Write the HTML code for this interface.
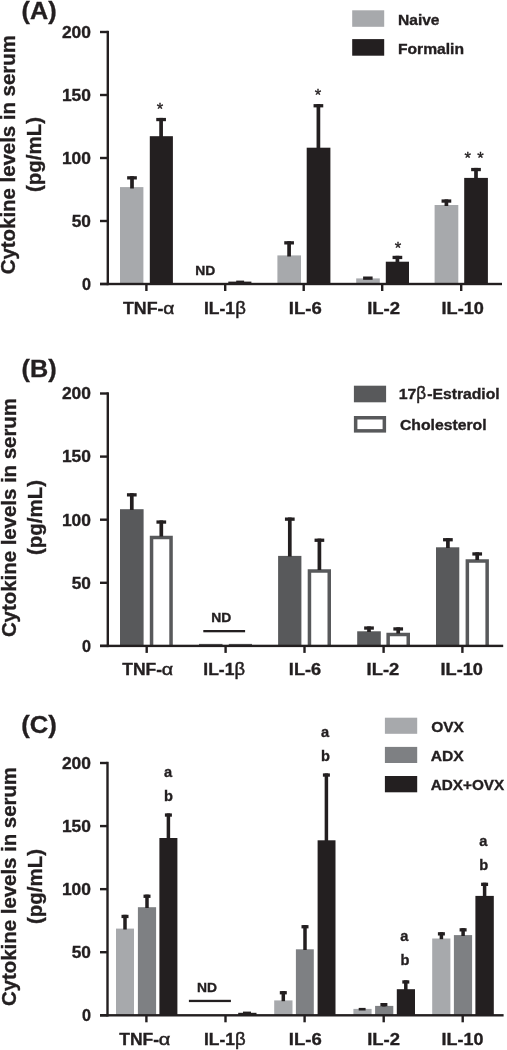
<!DOCTYPE html>
<html><head><meta charset="utf-8"><title>Cytokine levels in serum</title>
<style>
html,body{margin:0;padding:0;background:#fff;}
body{width:507px;height:1050px;overflow:hidden;}
svg{display:block;will-change:transform;font-family:"Liberation Sans",sans-serif;}
</style></head><body>
<svg width="507" height="1050" viewBox="0 0 507 1050">
<rect x="0" y="0" width="507" height="1050" fill="#ffffff"/>
<rect x="120.00" y="187.10" width="23.40" height="96.90" fill="#a7a9ac" />
<rect x="127.15" y="176.20" width="9.70" height="3.30" fill="#231f20" />
<rect x="130.15" y="176.20" width="3.70" height="12.30" fill="#231f20" />
<rect x="149.80" y="136.20" width="23.10" height="147.80" fill="#231f20" />
<rect x="156.25" y="117.90" width="9.70" height="3.30" fill="#231f20" />
<rect x="159.25" y="117.90" width="3.70" height="19.10" fill="#231f20" />
<rect x="228.30" y="281.60" width="23.10" height="2.40" fill="#231f20" />
<rect x="236.20" y="280.60" width="7.90" height="1.40" fill="#231f20" />
<rect x="277.40" y="255.40" width="23.60" height="28.60" fill="#a7a9ac" />
<rect x="284.25" y="241.20" width="9.70" height="3.30" fill="#231f20" />
<rect x="287.25" y="241.20" width="3.70" height="15.30" fill="#231f20" />
<rect x="306.70" y="147.70" width="23.70" height="136.30" fill="#231f20" />
<rect x="313.55" y="104.10" width="9.70" height="3.30" fill="#231f20" />
<rect x="316.55" y="104.10" width="3.70" height="44.40" fill="#231f20" />
<rect x="356.20" y="278.40" width="23.60" height="5.60" fill="#a7a9ac" />
<rect x="363.10" y="276.50" width="9.50" height="3.30" fill="#231f20" />
<rect x="385.80" y="261.70" width="23.20" height="22.30" fill="#231f20" />
<rect x="392.55" y="255.80" width="9.70" height="3.30" fill="#231f20" />
<rect x="395.55" y="255.80" width="3.70" height="6.70" fill="#231f20" />
<rect x="434.60" y="205.00" width="23.70" height="79.00" fill="#a7a9ac" />
<rect x="441.55" y="199.40" width="9.70" height="3.30" fill="#231f20" />
<rect x="444.55" y="199.40" width="3.70" height="6.60" fill="#231f20" />
<rect x="464.20" y="177.90" width="23.70" height="106.10" fill="#231f20" />
<rect x="471.15" y="167.90" width="9.70" height="3.30" fill="#231f20" />
<rect x="474.15" y="167.90" width="3.70" height="10.60" fill="#231f20" />
<rect x="106.60" y="30.80" width="2.40" height="254.40" fill="#231f20" />
<rect x="100.00" y="282.80" width="402.00" height="2.40" fill="#231f20" />
<rect x="100.00" y="282.80" width="7.80" height="2.40" fill="#231f20" />
<text x="81.90" y="289.80" font-size="16.5" font-weight="bold" text-anchor="start" fill="#231f20" stroke="#231f20" stroke-width="0.35" textLength="9.00" lengthAdjust="spacingAndGlyphs">0</text>
<rect x="100.00" y="219.80" width="7.80" height="2.40" fill="#231f20" />
<text x="71.70" y="226.80" font-size="16.5" font-weight="bold" text-anchor="start" fill="#231f20" stroke="#231f20" stroke-width="0.35" textLength="19.20" lengthAdjust="spacingAndGlyphs">50</text>
<rect x="100.00" y="156.80" width="7.80" height="2.40" fill="#231f20" />
<text x="61.90" y="163.80" font-size="16.5" font-weight="bold" text-anchor="start" fill="#231f20" stroke="#231f20" stroke-width="0.35" textLength="29.00" lengthAdjust="spacingAndGlyphs">100</text>
<rect x="100.00" y="93.80" width="7.80" height="2.40" fill="#231f20" />
<text x="61.90" y="100.80" font-size="16.5" font-weight="bold" text-anchor="start" fill="#231f20" stroke="#231f20" stroke-width="0.35" textLength="29.00" lengthAdjust="spacingAndGlyphs">150</text>
<rect x="100.00" y="30.80" width="7.80" height="2.40" fill="#231f20" />
<text x="61.90" y="37.80" font-size="16.5" font-weight="bold" text-anchor="start" fill="#231f20" stroke="#231f20" stroke-width="0.35" textLength="29.00" lengthAdjust="spacingAndGlyphs">200</text>
<rect x="145.20" y="284.00" width="2.40" height="7.00" fill="#231f20" />
<rect x="224.00" y="284.00" width="2.40" height="7.00" fill="#231f20" />
<rect x="302.50" y="284.00" width="2.40" height="7.00" fill="#231f20" />
<rect x="381.00" y="284.00" width="2.40" height="7.00" fill="#231f20" />
<rect x="460.00" y="284.00" width="2.40" height="7.00" fill="#231f20" />
<text x="15.20" y="274.20" font-size="19.7" font-weight="bold" text-anchor="start" fill="#231f20" stroke="#231f20" stroke-width="0.35" textLength="239.00" lengthAdjust="spacingAndGlyphs" transform="rotate(-90 15.20 274.20)">Cytokine levels in serum</text>
<text x="41.00" y="192.00" font-size="19.7" font-weight="bold" text-anchor="start" fill="#231f20" stroke="#231f20" stroke-width="0.35" textLength="75.00" lengthAdjust="spacingAndGlyphs" transform="rotate(-90 41.00 192.00)">(pg/mL)</text>
<text x="21.60" y="19.00" font-size="24" font-weight="bold" text-anchor="start" fill="#231f20" stroke="#231f20" stroke-width="0.35" textLength="35.00" lengthAdjust="spacingAndGlyphs">(A)</text>
<text x="122.99" y="313.50" font-size="16" font-weight="bold" text-anchor="start" fill="#231f20" stroke="#231f20" stroke-width="0.35" textLength="40.41" lengthAdjust="spacingAndGlyphs">TNF-</text>
<text x="163.18" y="313.50" font-size="17.0" font-weight="normal" text-anchor="start" fill="#231f20" stroke="#231f20" stroke-width="0.5" textLength="11.11" lengthAdjust="spacingAndGlyphs">α</text>
<text x="204.03" y="313.50" font-size="16" font-weight="bold" text-anchor="start" fill="#231f20" stroke="#231f20" stroke-width="0.35" textLength="31.05" lengthAdjust="spacingAndGlyphs">IL-1</text>
<text x="235.25" y="313.50" font-size="18.0" font-weight="normal" text-anchor="start" fill="#231f20" stroke="#231f20" stroke-width="0.5" textLength="10.66" lengthAdjust="spacingAndGlyphs">β</text>
<text x="288.87" y="313.50" font-size="16" font-weight="bold" text-anchor="start" fill="#231f20" stroke="#231f20" stroke-width="0.35" textLength="32.83" lengthAdjust="spacingAndGlyphs">IL-6</text>
<text x="367.17" y="313.50" font-size="16" font-weight="bold" text-anchor="start" fill="#231f20" stroke="#231f20" stroke-width="0.35" textLength="32.93" lengthAdjust="spacingAndGlyphs">IL-2</text>
<text x="441.59" y="313.50" font-size="16" font-weight="bold" text-anchor="start" fill="#231f20" stroke="#231f20" stroke-width="0.35" textLength="42.29" lengthAdjust="spacingAndGlyphs">IL-10</text>
<text x="195.30" y="274.80" font-size="12.4" font-weight="bold" text-anchor="start" fill="#231f20" stroke="#231f20" stroke-width="0.35" textLength="20.00" lengthAdjust="spacingAndGlyphs">ND</text>
<text x="160.0" y="114.7" font-size="16.6" text-anchor="middle" fill="#231f20" stroke="#231f20" stroke-width="0.35">*</text>
<text x="317.9" y="100.7" font-size="16.6" text-anchor="middle" fill="#231f20" stroke="#231f20" stroke-width="0.35">*</text>
<text x="397.9" y="253.7" font-size="16.6" text-anchor="middle" fill="#231f20" stroke="#231f20" stroke-width="0.35">*</text>
<text x="467.8" y="164.2" font-size="16.6" text-anchor="middle" fill="#231f20" stroke="#231f20" stroke-width="0.35">*</text>
<text x="480.6" y="164.2" font-size="16.6" text-anchor="middle" fill="#231f20" stroke="#231f20" stroke-width="0.35">*</text>
<rect x="352.20" y="10.30" width="32.00" height="16.50" fill="#a7a9ac" />
<rect x="352.20" y="39.10" width="32.00" height="16.60" fill="#231f20" />
<text x="398.00" y="25.20" font-size="14.6" font-weight="bold" text-anchor="start" fill="#231f20" stroke="#231f20" stroke-width="0.35" textLength="41.50" lengthAdjust="spacingAndGlyphs">Naive</text>
<text x="398.00" y="54.20" font-size="14.6" font-weight="bold" text-anchor="start" fill="#231f20" stroke="#231f20" stroke-width="0.35" textLength="66.00" lengthAdjust="spacingAndGlyphs">Formalin</text>
<rect x="120.00" y="509.20" width="23.60" height="136.70" fill="#58595b" />
<rect x="126.95" y="493.20" width="9.70" height="3.30" fill="#231f20" />
<rect x="129.95" y="493.20" width="3.70" height="16.80" fill="#231f20" />
<path d="M151.55 645.90 V537.55 H171.05 V645.90" fill="#fff" stroke="#58595b" stroke-width="3.5" stroke-linejoin="miter"/>
<rect x="156.45" y="520.40" width="9.70" height="3.30" fill="#231f20" />
<rect x="159.45" y="520.40" width="3.70" height="16.10" fill="#231f20" />
<rect x="199.00" y="643.90" width="23.50" height="2.00" fill="#58595b" />
<rect x="228.80" y="643.90" width="23.20" height="2.00" fill="#58595b" />
<rect x="278.10" y="555.90" width="23.30" height="90.00" fill="#58595b" />
<rect x="284.95" y="517.50" width="9.70" height="3.30" fill="#231f20" />
<rect x="287.95" y="517.50" width="3.70" height="39.00" fill="#231f20" />
<path d="M309.45 645.90 V570.95 H329.25 V645.90" fill="#fff" stroke="#58595b" stroke-width="3.5" stroke-linejoin="miter"/>
<rect x="314.55" y="538.60" width="9.70" height="3.30" fill="#231f20" />
<rect x="317.55" y="538.60" width="3.70" height="31.40" fill="#231f20" />
<rect x="357.20" y="631.30" width="23.60" height="14.60" fill="#58595b" />
<rect x="364.15" y="626.40" width="9.70" height="3.30" fill="#231f20" />
<rect x="367.15" y="626.40" width="3.70" height="5.60" fill="#231f20" />
<path d="M388.15 645.90 V634.45 H408.25 V645.90" fill="#fff" stroke="#58595b" stroke-width="3.5" stroke-linejoin="miter"/>
<rect x="393.35" y="627.30" width="9.70" height="3.30" fill="#231f20" />
<rect x="396.35" y="627.30" width="3.70" height="6.20" fill="#231f20" />
<rect x="436.00" y="547.30" width="23.30" height="98.60" fill="#58595b" />
<rect x="443.05" y="538.10" width="9.70" height="3.30" fill="#231f20" />
<rect x="446.05" y="538.10" width="3.70" height="9.90" fill="#231f20" />
<path d="M467.35 645.90 V560.95 H487.15 V645.90" fill="#fff" stroke="#58595b" stroke-width="3.5" stroke-linejoin="miter"/>
<rect x="472.35" y="552.30" width="9.70" height="3.30" fill="#231f20" />
<rect x="475.35" y="552.30" width="3.70" height="7.70" fill="#231f20" />
<rect x="106.60" y="392.30" width="2.40" height="254.80" fill="#231f20" />
<rect x="100.00" y="644.70" width="403.20" height="2.40" fill="#231f20" />
<rect x="100.00" y="644.70" width="7.80" height="2.40" fill="#231f20" />
<text x="81.90" y="651.70" font-size="16.5" font-weight="bold" text-anchor="start" fill="#231f20" stroke="#231f20" stroke-width="0.35" textLength="9.00" lengthAdjust="spacingAndGlyphs">0</text>
<rect x="100.00" y="581.60" width="7.80" height="2.40" fill="#231f20" />
<text x="71.70" y="588.60" font-size="16.5" font-weight="bold" text-anchor="start" fill="#231f20" stroke="#231f20" stroke-width="0.35" textLength="19.20" lengthAdjust="spacingAndGlyphs">50</text>
<rect x="100.00" y="518.50" width="7.80" height="2.40" fill="#231f20" />
<text x="61.90" y="525.50" font-size="16.5" font-weight="bold" text-anchor="start" fill="#231f20" stroke="#231f20" stroke-width="0.35" textLength="29.00" lengthAdjust="spacingAndGlyphs">100</text>
<rect x="100.00" y="455.40" width="7.80" height="2.40" fill="#231f20" />
<text x="61.90" y="462.40" font-size="16.5" font-weight="bold" text-anchor="start" fill="#231f20" stroke="#231f20" stroke-width="0.35" textLength="29.00" lengthAdjust="spacingAndGlyphs">150</text>
<rect x="100.00" y="392.30" width="7.80" height="2.40" fill="#231f20" />
<text x="61.90" y="399.30" font-size="16.5" font-weight="bold" text-anchor="start" fill="#231f20" stroke="#231f20" stroke-width="0.35" textLength="29.00" lengthAdjust="spacingAndGlyphs">200</text>
<rect x="145.50" y="645.90" width="2.40" height="7.00" fill="#231f20" />
<rect x="224.40" y="645.90" width="2.40" height="7.00" fill="#231f20" />
<rect x="303.30" y="645.90" width="2.40" height="7.00" fill="#231f20" />
<rect x="382.40" y="645.90" width="2.40" height="7.00" fill="#231f20" />
<rect x="461.20" y="645.90" width="2.40" height="7.00" fill="#231f20" />
<text x="16.00" y="637.10" font-size="19.7" font-weight="bold" text-anchor="start" fill="#231f20" stroke="#231f20" stroke-width="0.35" textLength="239.00" lengthAdjust="spacingAndGlyphs" transform="rotate(-90 16.00 637.10)">Cytokine levels in serum</text>
<text x="41.60" y="555.00" font-size="19.7" font-weight="bold" text-anchor="start" fill="#231f20" stroke="#231f20" stroke-width="0.35" textLength="75.00" lengthAdjust="spacingAndGlyphs" transform="rotate(-90 41.60 555.00)">(pg/mL)</text>
<text x="21.60" y="377.00" font-size="24" font-weight="bold" text-anchor="start" fill="#231f20" stroke="#231f20" stroke-width="0.35" textLength="35.00" lengthAdjust="spacingAndGlyphs">(B)</text>
<text x="122.30" y="674.60" font-size="16" font-weight="bold" text-anchor="start" fill="#231f20" stroke="#231f20" stroke-width="0.35" textLength="39.80" lengthAdjust="spacingAndGlyphs">TNF-</text>
<text x="161.77" y="674.60" font-size="17.0" font-weight="normal" text-anchor="start" fill="#231f20" stroke="#231f20" stroke-width="0.5" textLength="11.34" lengthAdjust="spacingAndGlyphs">α</text>
<text x="203.33" y="674.60" font-size="16" font-weight="bold" text-anchor="start" fill="#231f20" stroke="#231f20" stroke-width="0.35" textLength="31.05" lengthAdjust="spacingAndGlyphs">IL-1</text>
<text x="234.56" y="674.60" font-size="18.0" font-weight="normal" text-anchor="start" fill="#231f20" stroke="#231f20" stroke-width="0.5" textLength="10.54" lengthAdjust="spacingAndGlyphs">β</text>
<text x="288.89" y="674.60" font-size="16" font-weight="bold" text-anchor="start" fill="#231f20" stroke="#231f20" stroke-width="0.35" textLength="32.19" lengthAdjust="spacingAndGlyphs">IL-6</text>
<text x="366.58" y="674.60" font-size="16" font-weight="bold" text-anchor="start" fill="#231f20" stroke="#231f20" stroke-width="0.35" textLength="32.62" lengthAdjust="spacingAndGlyphs">IL-2</text>
<text x="440.49" y="674.60" font-size="16" font-weight="bold" text-anchor="start" fill="#231f20" stroke="#231f20" stroke-width="0.35" textLength="42.40" lengthAdjust="spacingAndGlyphs">IL-10</text>
<text x="211.20" y="622.00" font-size="12.4" font-weight="bold" text-anchor="start" fill="#231f20" stroke="#231f20" stroke-width="0.35" textLength="20.00" lengthAdjust="spacingAndGlyphs">ND</text>
<rect x="203.30" y="630.00" width="41.80" height="2.30" fill="#231f20" />
<rect x="353.90" y="385.70" width="32.20" height="16.60" fill="#58595b" />
<rect x="355.65" y="417.75" width="28.7" height="13.1" fill="#fff" stroke="#58595b" stroke-width="3.5"/>
<text x="398.72" y="399.40" font-size="14.6" font-weight="bold" text-anchor="start" fill="#231f20" stroke="#231f20" stroke-width="0.35" textLength="17.67" lengthAdjust="spacingAndGlyphs">17</text>
<text x="416.34" y="399.40" font-size="17.6" font-weight="normal" text-anchor="start" fill="#231f20" stroke="#231f20" stroke-width="0.5" textLength="9.81" lengthAdjust="spacingAndGlyphs">β</text>
<text x="427.22" y="399.40" font-size="14.6" font-weight="bold" text-anchor="start" fill="#231f20" stroke="#231f20" stroke-width="0.35" textLength="72.48" lengthAdjust="spacingAndGlyphs">-Estradiol</text>
<text x="399.94" y="430.10" font-size="14.6" font-weight="bold" text-anchor="start" fill="#231f20" stroke="#231f20" stroke-width="0.35" textLength="86.66" lengthAdjust="spacingAndGlyphs">Cholesterol</text>
<rect x="116.00" y="928.60" width="18.00" height="86.70" fill="#a7a9ac" />
<rect x="121.50" y="914.80" width="7.00" height="3.30" fill="#231f20" />
<rect x="123.25" y="914.80" width="3.50" height="14.70" fill="#231f20" />
<rect x="137.90" y="907.20" width="18.20" height="108.10" fill="#7e8083" />
<rect x="143.50" y="894.60" width="7.00" height="3.30" fill="#231f20" />
<rect x="145.25" y="894.60" width="3.50" height="13.40" fill="#231f20" />
<rect x="159.40" y="838.00" width="18.00" height="177.30" fill="#231f20" />
<rect x="164.90" y="813.40" width="7.00" height="3.30" fill="#231f20" />
<rect x="166.65" y="813.40" width="3.50" height="25.60" fill="#231f20" />
<rect x="238.20" y="1012.80" width="18.30" height="2.50" fill="#231f20" />
<rect x="243.00" y="1011.60" width="8.00" height="1.60" fill="#231f20" />
<rect x="274.20" y="1000.40" width="18.30" height="14.90" fill="#a7a9ac" />
<rect x="279.80" y="991.10" width="7.00" height="3.30" fill="#231f20" />
<rect x="281.55" y="991.10" width="3.50" height="10.10" fill="#231f20" />
<rect x="295.90" y="949.30" width="17.90" height="66.00" fill="#7e8083" />
<rect x="301.50" y="925.10" width="7.00" height="3.30" fill="#231f20" />
<rect x="303.25" y="925.10" width="3.50" height="24.90" fill="#231f20" />
<rect x="317.60" y="840.30" width="17.90" height="175.00" fill="#231f20" />
<rect x="322.90" y="773.40" width="7.00" height="3.30" fill="#231f20" />
<rect x="324.65" y="773.40" width="3.50" height="67.60" fill="#231f20" />
<rect x="353.40" y="1008.90" width="18.20" height="6.40" fill="#a7a9ac" />
<rect x="358.70" y="1007.90" width="6.90" height="2.60" fill="#231f20" />
<rect x="375.10" y="1005.90" width="18.20" height="9.40" fill="#7e8083" />
<rect x="380.40" y="1003.00" width="7.00" height="3.30" fill="#231f20" />
<rect x="382.15" y="1003.00" width="3.50" height="3.50" fill="#231f20" />
<rect x="396.80" y="989.20" width="18.20" height="26.10" fill="#231f20" />
<rect x="402.30" y="980.30" width="7.00" height="3.30" fill="#231f20" />
<rect x="404.05" y="980.30" width="3.50" height="9.70" fill="#231f20" />
<rect x="432.20" y="938.50" width="18.20" height="76.80" fill="#a7a9ac" />
<rect x="437.90" y="932.20" width="7.00" height="3.30" fill="#231f20" />
<rect x="439.65" y="932.20" width="3.50" height="7.00" fill="#231f20" />
<rect x="453.90" y="935.10" width="18.20" height="80.20" fill="#7e8083" />
<rect x="459.60" y="928.20" width="7.00" height="3.30" fill="#231f20" />
<rect x="461.35" y="928.20" width="3.50" height="7.80" fill="#231f20" />
<rect x="475.40" y="895.90" width="18.40" height="119.40" fill="#231f20" />
<rect x="481.10" y="882.70" width="7.00" height="3.30" fill="#231f20" />
<rect x="482.85" y="882.70" width="3.50" height="13.80" fill="#231f20" />
<rect x="106.30" y="761.80" width="2.40" height="254.70" fill="#231f20" />
<rect x="100.00" y="1014.10" width="403.60" height="2.40" fill="#231f20" />
<rect x="100.00" y="1014.10" width="7.50" height="2.40" fill="#231f20" />
<text x="81.90" y="1021.10" font-size="16.5" font-weight="bold" text-anchor="start" fill="#231f20" stroke="#231f20" stroke-width="0.35" textLength="9.00" lengthAdjust="spacingAndGlyphs">0</text>
<rect x="100.00" y="951.02" width="7.50" height="2.40" fill="#231f20" />
<text x="71.70" y="958.02" font-size="16.5" font-weight="bold" text-anchor="start" fill="#231f20" stroke="#231f20" stroke-width="0.35" textLength="19.20" lengthAdjust="spacingAndGlyphs">50</text>
<rect x="100.00" y="887.95" width="7.50" height="2.40" fill="#231f20" />
<text x="61.90" y="894.95" font-size="16.5" font-weight="bold" text-anchor="start" fill="#231f20" stroke="#231f20" stroke-width="0.35" textLength="29.00" lengthAdjust="spacingAndGlyphs">100</text>
<rect x="100.00" y="824.88" width="7.50" height="2.40" fill="#231f20" />
<text x="61.90" y="831.88" font-size="16.5" font-weight="bold" text-anchor="start" fill="#231f20" stroke="#231f20" stroke-width="0.35" textLength="29.00" lengthAdjust="spacingAndGlyphs">150</text>
<rect x="100.00" y="761.80" width="7.50" height="2.40" fill="#231f20" />
<text x="61.90" y="768.80" font-size="16.5" font-weight="bold" text-anchor="start" fill="#231f20" stroke="#231f20" stroke-width="0.35" textLength="29.00" lengthAdjust="spacingAndGlyphs">200</text>
<rect x="145.20" y="1015.30" width="2.40" height="7.00" fill="#231f20" />
<rect x="224.30" y="1015.30" width="2.40" height="7.00" fill="#231f20" />
<rect x="303.40" y="1015.30" width="2.40" height="7.00" fill="#231f20" />
<rect x="382.50" y="1015.30" width="2.40" height="7.00" fill="#231f20" />
<rect x="461.50" y="1015.30" width="2.40" height="7.00" fill="#231f20" />
<text x="16.40" y="1006.00" font-size="19.7" font-weight="bold" text-anchor="start" fill="#231f20" stroke="#231f20" stroke-width="0.35" textLength="239.00" lengthAdjust="spacingAndGlyphs" transform="rotate(-90 16.40 1006.00)">Cytokine levels in serum</text>
<text x="41.90" y="924.00" font-size="19.7" font-weight="bold" text-anchor="start" fill="#231f20" stroke="#231f20" stroke-width="0.35" textLength="75.00" lengthAdjust="spacingAndGlyphs" transform="rotate(-90 41.90 924.00)">(pg/mL)</text>
<text x="21.20" y="732.70" font-size="24" font-weight="bold" text-anchor="start" fill="#231f20" stroke="#231f20" stroke-width="0.35" textLength="35.60" lengthAdjust="spacingAndGlyphs">(C)</text>
<text x="119.30" y="1044.60" font-size="16" font-weight="bold" text-anchor="start" fill="#231f20" stroke="#231f20" stroke-width="0.35" textLength="39.80" lengthAdjust="spacingAndGlyphs">TNF-</text>
<text x="158.75" y="1044.60" font-size="17.0" font-weight="normal" text-anchor="start" fill="#231f20" stroke="#231f20" stroke-width="0.5" textLength="11.56" lengthAdjust="spacingAndGlyphs">α</text>
<text x="204.04" y="1044.60" font-size="16" font-weight="bold" text-anchor="start" fill="#231f20" stroke="#231f20" stroke-width="0.35" textLength="30.95" lengthAdjust="spacingAndGlyphs">IL-1</text>
<text x="235.05" y="1044.60" font-size="18.0" font-weight="normal" text-anchor="start" fill="#231f20" stroke="#231f20" stroke-width="0.5" textLength="10.66" lengthAdjust="spacingAndGlyphs">β</text>
<text x="288.87" y="1044.60" font-size="16" font-weight="bold" text-anchor="start" fill="#231f20" stroke="#231f20" stroke-width="0.35" textLength="32.83" lengthAdjust="spacingAndGlyphs">IL-6</text>
<text x="367.17" y="1044.60" font-size="16" font-weight="bold" text-anchor="start" fill="#231f20" stroke="#231f20" stroke-width="0.35" textLength="32.72" lengthAdjust="spacingAndGlyphs">IL-2</text>
<text x="441.61" y="1044.60" font-size="16" font-weight="bold" text-anchor="start" fill="#231f20" stroke="#231f20" stroke-width="0.35" textLength="41.77" lengthAdjust="spacingAndGlyphs">IL-10</text>
<text x="197.00" y="992.00" font-size="12.4" font-weight="bold" text-anchor="start" fill="#231f20" stroke="#231f20" stroke-width="0.35" textLength="20.00" lengthAdjust="spacingAndGlyphs">ND</text>
<rect x="188.90" y="999.80" width="42.00" height="2.30" fill="#231f20" />
<text x="168.00" y="777.00" font-size="14.6" font-weight="bold" text-anchor="middle" fill="#231f20" stroke="#231f20" stroke-width="0.35">a</text>
<text x="168.50" y="800.50" font-size="14.6" font-weight="bold" text-anchor="middle" fill="#231f20" stroke="#231f20" stroke-width="0.35">b</text>
<text x="325.00" y="737.40" font-size="14.6" font-weight="bold" text-anchor="middle" fill="#231f20" stroke="#231f20" stroke-width="0.35">a</text>
<text x="325.50" y="760.60" font-size="14.6" font-weight="bold" text-anchor="middle" fill="#231f20" stroke="#231f20" stroke-width="0.35">b</text>
<text x="404.40" y="940.70" font-size="14.6" font-weight="bold" text-anchor="middle" fill="#231f20" stroke="#231f20" stroke-width="0.35">a</text>
<text x="404.90" y="965.00" font-size="14.6" font-weight="bold" text-anchor="middle" fill="#231f20" stroke="#231f20" stroke-width="0.35">b</text>
<text x="483.20" y="846.10" font-size="14.6" font-weight="bold" text-anchor="middle" fill="#231f20" stroke="#231f20" stroke-width="0.35">a</text>
<text x="483.70" y="869.60" font-size="14.6" font-weight="bold" text-anchor="middle" fill="#231f20" stroke="#231f20" stroke-width="0.35">b</text>
<rect x="384.90" y="717.70" width="32.30" height="16.10" fill="#a7a9ac" />
<rect x="384.90" y="746.90" width="32.30" height="16.10" fill="#7e8083" />
<rect x="384.90" y="776.00" width="32.30" height="16.30" fill="#231f20" />
<text x="431.15" y="732.20" font-size="14.4" font-weight="bold" text-anchor="start" fill="#231f20" stroke="#231f20" stroke-width="0.35" textLength="32.79" lengthAdjust="spacingAndGlyphs">OVX</text>
<text x="430.66" y="761.00" font-size="14.4" font-weight="bold" text-anchor="start" fill="#231f20" stroke="#231f20" stroke-width="0.35" textLength="33.08" lengthAdjust="spacingAndGlyphs">ADX</text>
<text x="430.66" y="790.30" font-size="14.4" font-weight="bold" text-anchor="start" fill="#231f20" stroke="#231f20" stroke-width="0.35" textLength="73.57" lengthAdjust="spacingAndGlyphs">ADX+OVX</text>
</svg>
</body></html>
